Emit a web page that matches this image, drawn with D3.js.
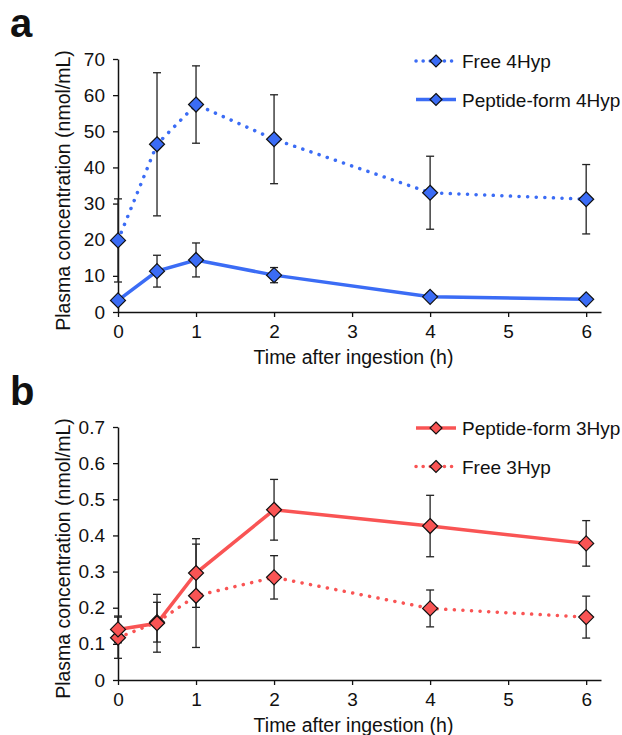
<!DOCTYPE html>
<html>
<head>
<meta charset="utf-8">
<script src="https://cdn.jsdelivr.net/npm/d3@7"></script>
<style>
  body { margin: 0; background: #fff; }
  text { font-family: "Liberation Sans", Arial, sans-serif; fill: #111; }
</style>
</head>
<body>
<script>
// data (mean and SD)
const time = [0, 0.5, 1, 2, 4, 6];
const xTicks = [0, 1, 2, 3, 4, 5, 6];

const free4Hyp = [19.8, 46.4, 57.4, 47.8, 33.0, 31.2];
const free4HypSd = [11.5, 19.8, 10.7, 12.3, 10.1, 9.6];
const peptide4Hyp = [3.2, 11.3, 14.4, 10.2, 4.2, 3.5];
const peptide4HypSd = [1.0, 4.4, 4.7, 2.1, 0.6, 0.5];
const yTicksA = [0, 10, 20, 30, 40, 50, 60, 70];

const peptide3Hyp = [0.140, 0.157, 0.296, 0.471, 0.426, 0.378];
const peptide3HypSd = [0.037, 0.080, 0.095, 0.084, 0.085, 0.063];
const free3Hyp = [0.117, 0.160, 0.233, 0.284, 0.198, 0.174];
const free3HypSd = [0.057, 0.055, 0.143, 0.060, 0.051, 0.058];
const yTicksB = [0, 0.1, 0.2, 0.3, 0.4, 0.5, 0.6, 0.7];

const blue = '#3b6cf5';
const red = '#f95454';

const W = 622;
const H = 735;
const fs = '19px';

const svg = d3.select('body').append('svg')
  .attr('width', W)
  .attr('height', H);

// draws one panel
const panel = (opt) => {
  const x = d3.scaleLinear().domain([0, 6.19]).range([118, 601]);
  const y = d3.scaleLinear().domain([0, opt.yMax]).range([opt.bottom, opt.top]);
  const g = svg.append('g');

  g.append('text')
    .attr('x', 10)
    .attr('y', opt.top - 22)
    .style('font-size', '40px')
    .style('font-weight', 'bold')
    .text(opt.label);

  // axes
  const ax = g.append('g')
    .attr('transform', `translate(0,${opt.bottom})`)
    .call(d3.axisBottom(x).tickValues(xTicks).tickSize(5).tickSizeOuter(0).tickPadding(8)
      .tickFormat(d3.format('d')));
  const ay = g.append('g')
    .attr('transform', 'translate(118,0)')
    .call(d3.axisLeft(y).tickValues(opt.yTicks).tickSize(5).tickSizeOuter(0).tickPadding(8)
      .tickFormat(d3.format(opt.fmt)));
  [ax, ay].forEach((a) => {
    a.select('.domain').attr('stroke', '#111').attr('stroke-width', 1.5);
    a.selectAll('.tick line').attr('stroke', '#111').attr('stroke-width', 1.3);
    a.selectAll('.tick text').style('font-size', fs).attr('fill', '#111');
  });

  g.append('text')
    .attr('x', (118 + 601) / 2 - 6)
    .attr('y', opt.bottom + 52)
    .attr('text-anchor', 'middle')
    .style('font-size', '19.5px')
    .text('Time after ingestion (h)');

  g.append('text')
    .attr('transform', `translate(70,${(opt.top + opt.bottom) / 2 + 5}) rotate(-90)`)
    .attr('text-anchor', 'middle')
    .style('font-size', '19.5px')
    .text('Plasma concentration (nmol/mL)');

  const line = d3.line()
    .x((d) => x(d.t))
    .y((d) => y(d.v));

  const diamond = (s) => `M0,${-s}L${s},0L0,${s}L${-s},0Z`;

  opt.series.forEach((s) => {
    const pts = time.map((t, i) => ({ t, v: s.values[i], sd: s.sd[i] }));
    g.append('path')
      .datum(pts)
      .attr('d', line)
      .attr('fill', 'none')
      .attr('stroke', s.color)
      .attr('stroke-width', 3.5)
      .attr('stroke-linecap', s.dotted ? 'round' : 'butt')
      .attr('stroke-dasharray', s.dotted ? '0.1 8.5' : null);
    s.pts = pts;
  });

  // error bars
  opt.series.forEach((s) => {
    const eb = g.append('g').attr('stroke', '#222').attr('stroke-width', 1.3);
    s.pts.forEach((d) => {
      eb.append('line')
        .attr('x1', x(d.t)).attr('x2', x(d.t))
        .attr('y1', y(d.v + d.sd)).attr('y2', y(d.v - d.sd));
      [d.v + d.sd, d.v - d.sd].forEach((v) => {
        eb.append('line')
          .attr('x1', x(d.t) - 4).attr('x2', x(d.t) + 4)
          .attr('y1', y(v)).attr('y2', y(v));
      });
    });
  });

  // markers
  opt.series.forEach((s) => {
    g.selectAll(null)
      .data(s.pts)
      .join('path')
      .attr('transform', (d) => `translate(${x(d.t)},${y(d.v)})`)
      .attr('d', diamond(7.5))
      .attr('fill', s.color)
      .attr('stroke', '#111')
      .attr('stroke-width', 1.2);
  });

  // legend
  opt.legend.forEach((s, i) => {
    const ly = opt.legendY + i * 38.5;
    const lg = g.append('g');
    lg.append('line')
      .attr('x1', 416).attr('x2', 456)
      .attr('y1', ly).attr('y2', ly)
      .attr('stroke', s.color)
      .attr('stroke-width', 3.5)
      .attr('stroke-linecap', s.dotted ? 'round' : 'butt')
      .attr('stroke-dasharray', s.dotted ? '0.1 7' : null);
    lg.append('path')
      .attr('transform', `translate(436,${ly})`)
      .attr('d', diamond(6))
      .attr('fill', s.color)
      .attr('stroke', '#111')
      .attr('stroke-width', 1.2);
    lg.append('text')
      .attr('x', 462)
      .attr('y', ly + 7)
      .style('font-size', fs)
      .text(s.name);
  });
};

const sFree4 = { name: 'Free 4Hyp', values: free4Hyp, sd: free4HypSd, color: blue, dotted: true };
const sPep4 = { name: 'Peptide-form 4Hyp', values: peptide4Hyp, sd: peptide4HypSd, color: blue, dotted: false };
panel({
  label: 'a', top: 59, bottom: 312, yMax: 70, yTicks: yTicksA, fmt: 'd',
  series: [sFree4, sPep4], legend: [sFree4, sPep4], legendY: 61,
});

const sPep3 = { name: 'Peptide-form 3Hyp', values: peptide3Hyp, sd: peptide3HypSd, color: red, dotted: false };
const sFree3 = { name: 'Free 3Hyp', values: free3Hyp, sd: free3HypSd, color: red, dotted: true };
panel({
  label: 'b', top: 427, bottom: 680, yMax: 0.7, yTicks: yTicksB, fmt: '.1~f',
  series: [sFree3, sPep3], legend: [sPep3, sFree3], legendY: 428,
});
</script>
</body>
</html>
